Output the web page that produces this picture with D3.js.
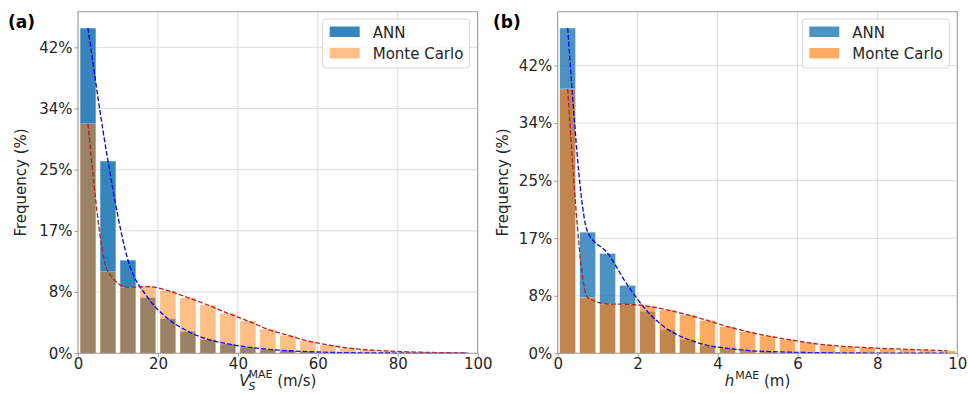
<!DOCTYPE html>
<html><head><meta charset="utf-8">
<script src="https://cdn.jsdelivr.net/npm/d3@7"></script>
<style>
body{margin:0;background:#fff;}
text{font-family:"DejaVu Sans",sans-serif;fill:#262626;}
</style></head>
<body><svg id="c" width="968" height="394"></svg>
<script>
// ---- data ----
const binsA = d3.range(20).map(i => i * 5);          // left bins start (m/s), width 5
const binsB = d3.range(20).map(i => i * 0.5);        // right bins start (m), width 0.5
const annA = [44.65, 26.4, 12.8, 7.63, 4.75, 3.02, 1.92, 1.28, 0.86, 0.55, 0.36, 0.22, 0.14, 0.09, 0.06, 0.04, 0.03, 0.02, 0.01, 0.01];
const mcA  = [31.5, 11.2, 9.06, 9.15, 8.6, 7.63, 6.63, 5.49, 4.45, 3.3, 2.47, 1.7, 1.15, 0.72, 0.47, 0.32, 0.2, 0.13, 0.08, 0.05];
const annB = [47.5, 17.7, 14.6, 9.93, 6.08, 3.5, 2.05, 1.17, 0.73, 0.42, 0.26, 0.17, 0.11, 0.08, 0.05, 0.04, 0.03, 0.02, 0.02, 0.01];
const mcB  = [38.6, 8.13, 7.2, 7.15, 6.9, 6.33, 5.6, 4.8, 3.9, 3.16, 2.53, 2.04, 1.55, 1.21, 0.97, 0.82, 0.68, 0.58, 0.48, 0.38];
const yTicks = [0, 8.4, 16.8, 25.2, 33.6, 42];
const yTickLabels = ["0%", "8%", "17%", "25%", "34%", "42%"];
const xTicksA = [0, 20, 40, 60, 80, 100];
const xTicksB = [0, 2, 4, 6, 8, 10];
const seriesNames = ["ANN", "Monte Carlo"];

const svg = d3.select("#c");

function panel(o) {
  const g = svg.append("g");
  const x = d3.scaleLinear().domain(o.xdom).range([o.left, o.right]);
  const ymax = d3.max(o.ann.concat(o.mc)) * 1.05;
  const y = d3.scaleLinear().domain([0, ymax]).range([353.3, 11.7]);
  const bw = o.binw;
  // grid
  g.append("g").selectAll("line.gx").data(o.xticks).join("line")
    .attr("x1", d => x(d)).attr("x2", d => x(d)).attr("y1", y(0)).attr("y2", y(ymax))
    .attr("stroke", "#dcdcdc").attr("stroke-width", 1);
  g.append("g").selectAll("line.gy").data(yTicks).join("line")
    .attr("x1", o.left).attr("x2", o.right).attr("y1", d => y(d)).attr("y2", d => y(d))
    .attr("stroke", "#dcdcdc").attr("stroke-width", 1);
  // bars
  const drawBars = (vals, color, alpha) => {
    g.append("g").selectAll("rect").data(vals).join("rect")
      .attr("x", (d, i) => x(o.bins[i] + bw * 0.1))
      .attr("width", x(o.bins[0] + bw * 0.8) - x(o.bins[0]))
      .attr("y", d => y(d)).attr("height", d => y(0) - y(d))
      .attr("fill", color).attr("fill-opacity", alpha)
      .attr("stroke", "#fff").attr("stroke-width", 0.6).attr("stroke-opacity", alpha);
  };
  drawBars(o.ann, "#1f77b4", o.aAnn);
  drawBars(o.mc, "#ff7f0e", o.aMc);
  // dashed curves through bin centres
  const line = d3.line().x((d, i) => x(o.bins[i] + bw / 2)).y(d => y(d)).curve(d3.curveMonotoneX);
  g.append("path").attr("d", line(o.ann)).attr("fill", "none").attr("stroke", "#0000ff")
    .attr("stroke-width", 1.3).attr("stroke-dasharray", "4.8,2.1");
  g.append("path").attr("d", line(o.mc)).attr("fill", "none").attr("stroke", "#b22222")
    .attr("stroke-width", 1.3).attr("stroke-dasharray", "4.8,2.1");
  // spines
  g.append("rect").attr("x", o.left).attr("y", y(ymax)).attr("width", o.right - o.left)
    .attr("height", y(0) - y(ymax)).attr("fill", "none").attr("stroke", "#9a9a9a").attr("stroke-width", 1);
  // axes
  const ya = d3.axisLeft(y).tickValues(yTicks).tickFormat((d, i) => yTickLabels[i]).tickSize(3.5).tickPadding(2);
  const ga = g.append("g").attr("transform", `translate(${o.left},0)`).call(ya);
  const xa = d3.axisBottom(x).tickValues(o.xticks).tickFormat(d3.format("d")).tickSize(3.5).tickPadding(2);
  const gb = g.append("g").attr("transform", `translate(0,${y(0)})`).call(xa);
  [ga, gb].forEach(a => {
    a.select(".domain").remove();
    a.selectAll(".tick line").attr("stroke", "#9a9a9a");
    a.selectAll(".tick text").attr("font-size", 15).attr("fill", "#262626")
      .attr("font-family", "DejaVu Sans");
  });
  // y label
  g.append("text").attr("transform", `translate(${o.ylabX},${(y(0) + y(ymax)) / 2}) rotate(-90)`)
    .attr("text-anchor", "middle").attr("font-size", 15).text("Frequency (%)");
  // panel letter
  g.append("text").attr("x", o.letterX).attr("y", 28).attr("font-size", 17).attr("font-weight", "bold")
    .style("fill", "#000").text(o.letter);
  // x label
  const xl = g.append("text").attr("x", (o.left + o.right) / 2).attr("y", 386)
    .attr("text-anchor", "middle").attr("font-size", 15);
  o.xlabel(xl);
  // legend
  const lg = g.append("g").attr("transform", `translate(${o.right - 155},19)`);
  lg.append("rect").attr("width", 147).attr("height", 49).attr("rx", 3)
    .attr("fill", "#fff").attr("fill-opacity", 0.8).attr("stroke", "#d8d8d8");
  [[o.aAnn, "#1f77b4"], [o.aMc, "#ff7f0e"]].forEach((c, i) => {
    lg.append("rect").attr("x", 7).attr("y", 7.5 + i * 21.5).attr("width", 30).attr("height", 10.5)
      .attr("fill", c[1]).attr("fill-opacity", c[0]);
    lg.append("text").attr("x", 50).attr("y", 18.5 + i * 21.5).attr("font-size", 15).text(seriesNames[i]);
  });
}

panel({
  left: 78, right: 477.7, xdom: [0, 100], bins: binsA, binw: 5, ann: annA, mc: mcA,
  xticks: xTicksA, aAnn: 0.9, aMc: 0.5, letter: "(a)", letterX: 8, ylabX: 26,
  xlabel: t => {
    t.append("tspan").attr("font-style", "italic").text("V");
    t.append("tspan").attr("font-style", "italic").attr("font-size", 11).attr("dy", 4).attr("dx", -1).text("S");
    t.append("tspan").attr("font-size", 11).attr("dy", -12).attr("dx", -7).text("MAE");
    t.append("tspan").attr("dy", 8).text(" (m/s)");
  }
});
panel({
  left: 557.7, right: 957.3, xdom: [0, 10], bins: binsB, binw: 0.5, ann: annB, mc: mcB,
  xticks: xTicksB, aAnn: 0.8, aMc: 0.65, letter: "(b)", letterX: 493, ylabX: 508,
  xlabel: t => {
    t.append("tspan").attr("font-style", "italic").text("h");
    t.append("tspan").attr("font-size", 11).attr("dy", -7).attr("dx", 1).text("MAE");
    t.append("tspan").attr("dy", 7).text(" (m)");
  }
});
</script></body></html>
